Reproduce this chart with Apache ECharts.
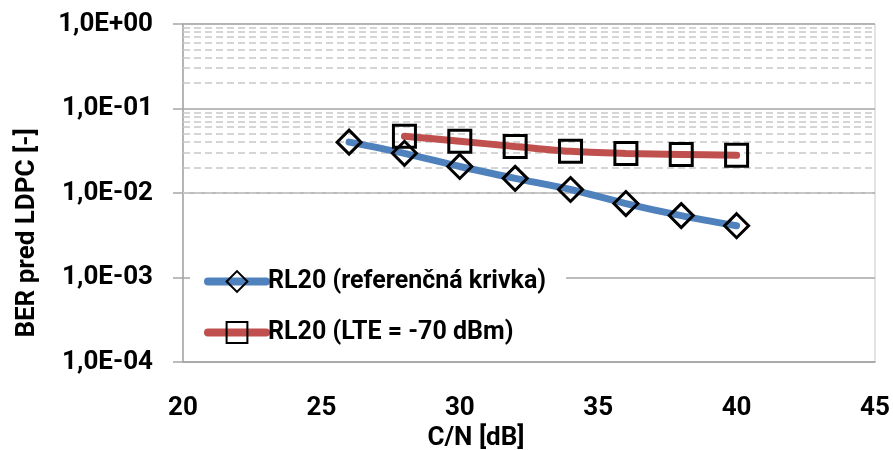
<!DOCTYPE html>
<html>
<head>
<meta charset="utf-8">
<script src="https://cdn.jsdelivr.net/npm/echarts@6/dist/echarts.min.js"></script>
<style>
  html, body { margin: 0; padding: 0; background: #fff; }
  #chart { width: 893px; height: 450px; }
</style>
</head>
<body>
<div id="chart"></div>
<script>
// C/N values [dB]
const cnValues = [26, 28, 30, 32, 34, 36, 38, 40];
// BER before LDPC, reference curve
const berReference = [0.040, 0.0295, 0.0206, 0.0149, 0.0110, 0.0075, 0.0054, 0.0041];
// BER before LDPC with LTE interference at -70 dBm (starts at 28 dB)
const cnLte = [28, 30, 32, 34, 36, 38, 40];
const berLte = [0.047, 0.0409, 0.0356, 0.0311, 0.0294, 0.0286, 0.0279];

const seriesNames = ['RL20 (referenčná krivka)', 'RL20 (LTE = -70 dBm)'];
const xTicks = [20, 25, 30, 35, 40, 45];
const yTickLabels = ['1,0E-04', '1,0E-03', '1,0E-02', '1,0E-01', '1,0E+00'];

const FONT = 'Roboto, "Open Sans", sans-serif';
const FS = 26;

// dashed minor gridlines at 2..9 × 10^k
const minorLines = [];
for (let e = -4; e < 0; e++) {
  for (let k = 2; k <= 9; k++) minorLines.push({ yAxis: k * Math.pow(10, e) });
}

const chart = echarts.init(document.getElementById('chart'), null, { renderer: 'canvas' });
chart.setOption({
  animation: false,
  backgroundColor: '#fff',
  grid: {
    left: 183, right: 18, top: 24, bottom: 88,
    outerBoundsMode: 'none', containLabel: false,
    show: true, borderColor: '#c8c8c8', borderWidth: 1
  },
  xAxis: {
    type: 'value', min: xTicks[0], max: xTicks[xTicks.length - 1], interval: 5,
    axisLine: { show: true, lineStyle: { color: '#a6a6a6', width: 1.5 } },
    axisTick: { show: false },
    splitLine: { show: false },
    axisLabel: {
      margin: 33, color: '#000', fontFamily: FONT, fontWeight: 'bold', fontSize: FS,
      formatter: v => String(v)
    },
    name: 'C/N [dB]', nameLocation: 'middle', nameGap: 62,
    nameTextStyle: { color: '#000', fontFamily: FONT, fontWeight: 'bold', fontSize: FS, padding: [0, 106, 0, 0] }
  },
  yAxis: {
    type: 'log', logBase: 10, min: 1e-4, max: 1,
    axisLine: { show: true, onZero: false, lineStyle: { color: '#a6a6a6', width: 1.5 } },
    axisTick: { show: true, length: 10, lineStyle: { color: '#a6a6a6', width: 1.5 } },
    splitLine: { show: true, lineStyle: { color: '#a6a6a6', width: 1.5 } },
    axisLabel: {
      margin: 30, color: '#000', fontFamily: FONT, fontWeight: 'bold', fontSize: FS,
      formatter: v => yTickLabels[Math.round(Math.log10(v)) + 4]
    },
    name: 'BER pred LDPC [-]', nameLocation: 'middle', nameGap: 143,
    nameTextStyle: { color: '#000', fontFamily: FONT, fontWeight: 'bold', fontSize: FS, padding: [0, 80, 0, 0] }
  },
  legend: {
    data: seriesNames,
    orient: 'vertical',
    left: 190, top: 261,
    padding: [8, 20, 6, 14],
    backgroundColor: '#fff',
    itemWidth: 58, itemHeight: 26, itemGap: 26,
    lineStyle: { width: 8, cap: 'round' },
    textStyle: { color: '#000', fontFamily: FONT, fontWeight: 'bold', fontSize: 25, padding: [0, 0, 0, -3] }
  },
  series: [
    {
      name: 'minor-grid', type: 'line', data: [], z: 1, silent: true,
      markLine: {
        z: 1, silent: true, symbol: ['none', 'none'], label: { show: false },
        lineStyle: { color: '#c8c8c8', type: [7, 4], width: 1.5 },
        data: minorLines, animation: false
      }
    },
    {
      name: seriesNames[0], type: 'line', z: 3,
      data: cnValues.map((x, i) => [x, berReference[i]]),
      smooth: 0.3,
      lineStyle: { color: '#4f81bd', width: 7, cap: 'round' },
      symbol: 'diamond', symbolSize: 24,
      itemStyle: { color: 'rgba(0,0,0,0)', borderColor: '#000', borderWidth: 3 }
    },
    {
      name: seriesNames[1], type: 'line', z: 3,
      data: cnLte.map((x, i) => [x, berLte[i]]),
      smooth: 0.3,
      lineStyle: { color: '#c0504d', width: 7, cap: 'round' },
      symbol: 'rect', symbolSize: 22,
      itemStyle: { color: 'rgba(0,0,0,0)', borderColor: '#000', borderWidth: 3 }
    }
  ]
});
</script>
</body>
</html>
